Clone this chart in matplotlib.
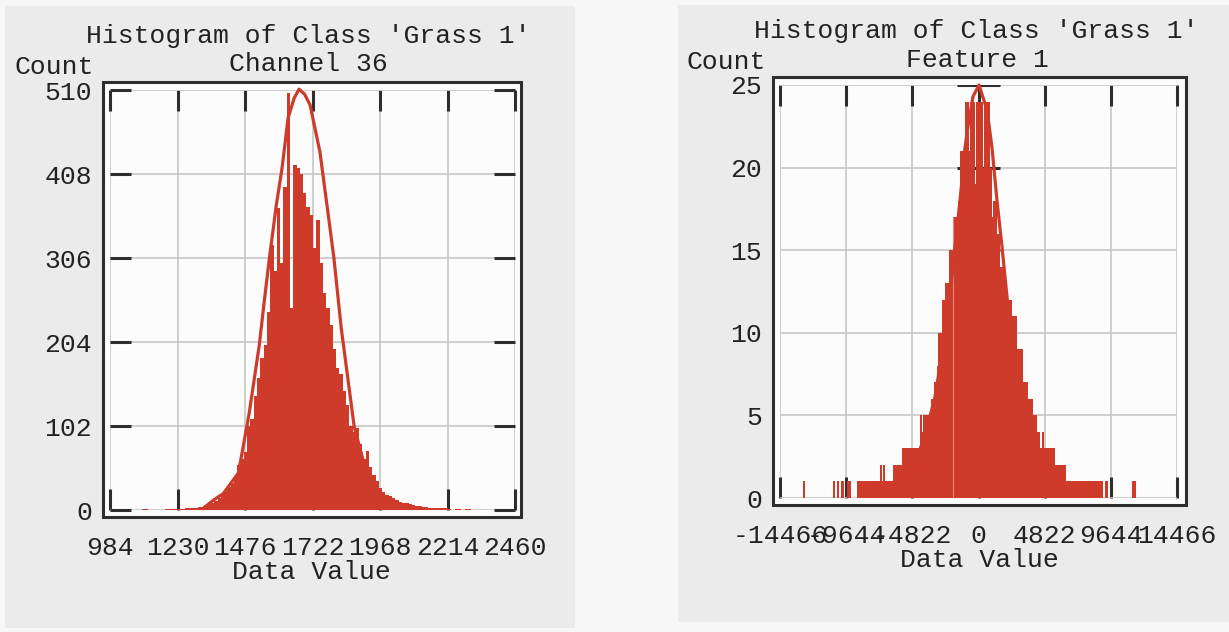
import numpy as np
import matplotlib.pyplot as plt
from matplotlib.patches import Rectangle

plt.rcParams['font.family'] = ['Liberation Mono', 'DejaVu Sans Mono']
plt.rcParams['axes.unicode_minus'] = False

W, H = 1229, 632

# ---- left panel : Channel 36 ----
title = "Histogram of Class 'Grass 1'"
ch_name = "Channel 36"
ch_bin_start = 1100
ch_bin_width = 12
ch_counts = [1, 1, 0, 0, 0, 0, 0, 1, 1, 1,
             1, 1, 1, 2, 3, 3, 3, 4, 4, 6,
             7, 9, 11, 14, 18, 22, 28, 33, 40, 55,
             62, 70, 102, 110, 138, 160, 185, 200, 240, 322,
             290, 367, 300, 392, 506, 245, 419, 415, 408, 385,
             368, 358, 318, 352, 300, 263, 245, 225, 195, 172,
             165, 145, 128, 102, 95, 100, 80, 62, 72, 52,
             42, 35, 27, 22, 18, 17, 14, 12, 10, 9,
             8, 7, 6, 5, 5, 4, 4, 3, 3, 3,
             2, 2, 2, 1, 0, 1, 1, 0, 1, 1]
ch_fit_x = [1324, 1361, 1397, 1452, 1491, 1528, 1545, 1565, 1590, 1611, 1633, 1655,
            1673, 1693, 1713, 1749, 1778, 1800, 1827, 1874, 1919, 1956, 1980]
ch_fit_y = [2, 12, 20, 45, 117, 200, 250, 306, 370, 415, 476, 500,
            511, 505, 492, 435, 362, 306, 220, 101, 45, 20, 2]
ch_xticks = [984, 1230, 1476, 1722, 1968, 2214, 2460]
ch_yticks = [0, 102, 204, 306, 408, 510]

# ---- right panel : Feature 1 ----
f_name = "Feature 1"
f_edges = [-12784, -12638, -10592, -10446, -10276, -10130, -10032, -9837, -9618, -9302,
           -8839, -7178, -7057, -6936, -6814, -6207, -5600, -4264, -4150, -4080,
           -3990, -3940, -3462, -3244, -3049, -2928, -2685, -2441, -2150, -1858,
           -1494, -1340, -984, -700, -610, -250, -160, 300, 390, 838,
           1000, 1060, 1340, 1583, 1826, 2100, 2450, 2780, 3266, 3631,
           3995, 4238, 4481, 4602, 4797, 5574, 6352, 9097, 9218, 9461,
           11201, 11493]
f_counts = [1, 0, 1, 0, 1, 0, 1, 0, 1, 0,
            1, 2, 1, 2, 1, 2, 3, 5, 4, 5,
            4, 5, 6, 7, 8, 10, 12, 13, 15, 17,
            18, 21, 24, 21, 24, 19, 24, 20, 24, 20,
            17, 18, 16, 14, 13, 12, 11, 9, 7, 6,
            5, 4, 3, 4, 3, 2, 1, 0, 1, 0,
            1]
f_fit_x = [-6000, -5000, -4000, -3200, -2600, -2100, -1713, -1348, -984, -766, -401, 36,
           620, 984, 1348, 1713, 2100, 2600, 3200, 4000, 5000, 6000]
f_fit_y = [0.5, 1.5, 3.5, 6, 9, 12, 15.2, 18, 21.2, 22.5, 24.3, 25,
           23.5, 21.2, 18, 15.2, 12, 9, 6, 3.5, 1.5, 0.5]
f_xticks = [-14466, -9644, -4822, 0, 4822, 9644, 14466]
f_yticks = [0, 5, 10, 15, 20, 25]

red = '#cf3b2b'
dark = '#2e2e2e'
txt = '#222222'
fs = 19


def fx(x):
    return x / W


def fy(y):
    return 1 - y / H


def box(x0, y0, x1, y1, **kw):
    r = Rectangle((fx(x0), fy(y1)), fx(x1) - fx(x0), fy(y0) - fy(y1),
                  transform=fig.transFigure, **kw)
    fig.patches.append(r)


fig = plt.figure(figsize=(W / 100, H / 100), dpi=100, facecolor='#f7f7f7')

# grey scanned panels + plot frames
box(5, 6, 575, 628, facecolor='#ebebeb', edgecolor='none', zorder=-3)
box(678, 5, 1229, 622, facecolor='#ebebeb', edgecolor='none', zorder=-3)
box(103, 82, 521, 517, facecolor='#fcfcfc', edgecolor=dark, lw=2.2, zorder=-2)
box(773, 77, 1186, 505, facecolor='#fcfcfc', edgecolor=dark, lw=2.2, zorder=-2)


def style(ax):
    ax.set_facecolor('none')
    for s in ax.spines.values():
        s.set_visible(False)
    ax.grid(True, color='#c6c6c6', lw=1.2)
    ax.set_axisbelow(True)
    ax.tick_params(direction='in', length=15, width=2.2, color=dark,
                   labelsize=fs, labelcolor=txt)
    ax.tick_params(axis='x', pad=19)
    ax.tick_params(axis='y', pad=13)


# left histogram
axL = fig.add_axes([fx(110), fy(510), fx(515) - fx(110), fy(90) - fy(510)])
edges = ch_bin_start + ch_bin_width * np.arange(len(ch_counts) + 1)
axL.stairs(ch_counts, edges, fill=True, color=red, lw=0)
axL.plot(ch_fit_x, ch_fit_y, color=red, lw=2.3, clip_on=False)
axL.set_xlim(984, 2460)
axL.set_ylim(0, 510)
axL.set_xticks(ch_xticks)
axL.set_yticks(ch_yticks)
style(axL)
axL.tick_params(top=True, right=True)

# right histogram
axR = fig.add_axes([fx(780), fy(498), fx(1177) - fx(780), fy(85) - fy(498)])
axR.stairs(f_counts, f_edges, fill=True, color=red, lw=0)
axR.vlines(-1858, 0, 17, color='#e98a78', lw=0.8, zorder=1.5)
axR.plot(f_fit_x, f_fit_y, color=red, lw=2.3, clip_on=False)
axR.hlines(f_yticks, -1600, 1600, color=dark, lw=2.2, zorder=0.6)
axR.set_xlim(-14466, 14466)
axR.set_ylim(0, 25)
axR.set_xticks(f_xticks)
axR.set_yticks(f_yticks)
style(axR)
axR.tick_params(top=True, left=False, right=False)

# texts
fig.text(fx(308), fy(36), title, ha='center', va='center', fontsize=fs, color=txt)
fig.text(fx(308), fy(64), ch_name, ha='center', va='center', fontsize=fs, color=txt)
fig.text(fx(14), fy(67), 'Count', ha='left', va='center', fontsize=fs, color=txt)
fig.text(fx(311), fy(572), 'Data Value', ha='center', va='center', fontsize=fs, color=txt)

fig.text(fx(976), fy(31), title, ha='center', va='center', fontsize=fs, color=txt)
fig.text(fx(977), fy(60), f_name, ha='center', va='center', fontsize=fs, color=txt)
fig.text(fx(686), fy(62), 'Count', ha='left', va='center', fontsize=fs, color=txt)
fig.text(fx(979), fy(560), 'Data Value', ha='center', va='center', fontsize=fs, color=txt)

fig.savefig('out.png', dpi=100, facecolor=fig.get_facecolor())
